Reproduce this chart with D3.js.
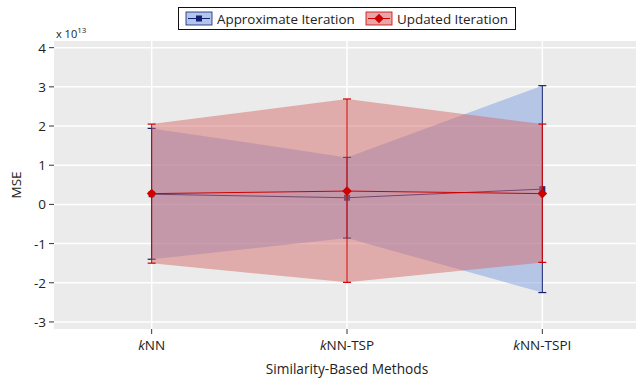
<!DOCTYPE html>
<html>
<head>
<meta charset="utf-8">
<script src="https://cdn.jsdelivr.net/npm/d3@7"></script>
<style>
  body { margin: 0; background: #fff; }
  text { font-family: "Open Sans", "Noto Sans", sans-serif; fill: #222; }
</style>
</head>
<body>
<svg id="chart" width="636" height="380"></svg>
<script>
// Methods compared on the x axis
const methods = ["kNN", "kNN-TSP", "kNN-TSPI"];
// MSE in units of 1e13
const approxMean  = [0.26, 0.17, 0.39];
const approxUpper = [1.94, 1.20, 3.03];
const approxLower = [-1.40, -0.86, -2.25];
const updatedMean  = [0.275, 0.34, 0.275];
const updatedUpper = [2.05, 2.69, 2.05];
const updatedLower = [-1.50, -1.99, -1.48];
const yTicks = [-3, -2, -1, 0, 1, 2, 3, 4];
const seriesNames = ["Approximate Iteration", "Updated Iteration"];

const svg = d3.select("#chart");
const plot = { left: 54, right: 640, top: 41, bottom: 329 };

const x = d3.scaleLinear().domain([0.5, 3.5]).range([plot.left, plot.right]);
const y = d3.scaleLinear().domain([-3.18, 4.17]).range([plot.bottom, plot.top]);

svg.append("rect")
  .attr("x", plot.left).attr("y", plot.top)
  .attr("width", plot.right - plot.left).attr("height", plot.bottom - plot.top)
  .attr("fill", "#ebebeb");

// grid
svg.append("g").selectAll("line").data(yTicks).join("line")
  .attr("x1", plot.left).attr("x2", plot.right)
  .attr("y1", d => y(d)).attr("y2", d => y(d))
  .attr("stroke", "#fff").attr("stroke-width", 1.5);
svg.append("g").selectAll("line").data(methods).join("line")
  .attr("x1", (d, i) => x(i + 1)).attr("x2", (d, i) => x(i + 1))
  .attr("y1", plot.top).attr("y2", plot.bottom)
  .attr("stroke", "#fff").attr("stroke-width", 1.5);

const sq = d3.symbol().type(d3.symbolSquare).size(36);
const dm = d3.symbol().type(d3.symbolDiamond2).size(60);

const series = [
  { mean: approxMean, upper: approxUpper, lower: approxLower,
    fill: "rgb(125,160,225)", fillOpacity: 0.5, line: "#15206e",
    marker: sq, markerFill: "#2a2a70" },
  { mean: updatedMean, upper: updatedUpper, lower: updatedLower,
    fill: "rgb(212,108,108)", fillOpacity: 0.5, line: "#d00000",
    marker: dm, markerFill: "#d00000" }
];

const area = d3.area()
  .x((d, i) => x(i + 1))
  .y0(d => y(d[0])).y1(d => y(d[1]));
const line = d3.line().x((d, i) => x(i + 1)).y(d => y(d));

// each series: band, error bars, mean line, markers (later series on top)
series.forEach(s => {
  const g = svg.append("g");
  g.append("path")
    .datum(s.lower.map((l, i) => [l, s.upper[i]]))
    .attr("d", area)
    .attr("fill", s.fill).attr("fill-opacity", s.fillOpacity);
  s.mean.forEach((m, i) => {
    const cx = x(i + 1);
    g.append("line").attr("x1", cx).attr("x2", cx)
      .attr("y1", y(s.lower[i])).attr("y2", y(s.upper[i]))
      .attr("stroke", s.line).attr("stroke-width", 1);
    [s.lower[i], s.upper[i]].forEach(v => {
      g.append("line").attr("x1", cx - 4).attr("x2", cx + 4)
        .attr("y1", y(v)).attr("y2", y(v))
        .attr("stroke", s.line).attr("stroke-width", 1.2);
    });
  });
  g.append("path").datum(s.mean).attr("d", line)
    .attr("fill", "none").attr("stroke", s.line).attr("stroke-width", 1);
  g.selectAll("path.mk").data(s.mean).join("path").attr("class", "mk")
    .attr("transform", (d, i) => `translate(${x(i + 1)},${y(d)})`)
    .attr("d", s.marker).attr("fill", s.markerFill);
});

// y axis
const yg = svg.append("g");
yTicks.forEach(t => {
  yg.append("line").attr("x1", plot.left - 5).attr("x2", plot.left)
    .attr("y1", y(t)).attr("y2", y(t)).attr("stroke", "#333");
  yg.append("text").attr("x", plot.left - 8).attr("y", y(t))
    .attr("text-anchor", "end").attr("dominant-baseline", "central")
    .attr("font-size", 13.5).text(t);
});
const exp = svg.append("text").attr("x", 56).attr("y", 38).attr("font-size", 11);
exp.append("tspan").text("x 10");
exp.append("tspan").attr("dy", -5).attr("font-size", 8).text("13");

svg.append("text").attr("transform", `translate(21,${(plot.top + plot.bottom) / 2}) rotate(-90)`)
  .attr("text-anchor", "middle").attr("font-size", 13.5).text("MSE");

// x axis
const xg = svg.append("g");
methods.forEach((m, i) => {
  const cx = x(i + 1);
  xg.append("line").attr("x1", cx).attr("x2", cx)
    .attr("y1", plot.bottom).attr("y2", plot.bottom + 5).attr("stroke", "#333");
  const t = xg.append("text").attr("x", cx).attr("y", plot.bottom + 21)
    .attr("text-anchor", "middle").attr("font-size", 13.5);
  t.append("tspan").attr("font-style", "italic").text(m[0]);
  t.append("tspan").text(m.slice(1));
});
svg.append("text").attr("x", 347).attr("y", 374)
  .attr("text-anchor", "middle").attr("font-size", 13.7).text("Similarity-Based Methods");

// legend
const lg = svg.append("g");
lg.append("rect").attr("x", 178.5).attr("y", 7.5).attr("width", 337).attr("height", 22)
  .attr("fill", "#fff").attr("stroke", "#111");
const legendX = [186, 366];
series.forEach((s, i) => {
  const lx = legendX[i];
  lg.append("rect").attr("x", lx).attr("y", 12).attr("width", 26).attr("height", 13)
    .attr("fill", s.fill).attr("fill-opacity", 0.6).attr("stroke", s.line).attr("stroke-width", 0.8);
  lg.append("line").attr("x1", lx + 2).attr("x2", lx + 24).attr("y1", 18.5).attr("y2", 18.5)
    .attr("stroke", s.line).attr("stroke-width", 1);
  lg.append("path").attr("transform", `translate(${lx + 13},18.5)`)
    .attr("d", s.marker).attr("fill", i === 0 ? "#15206e" : "#d00000");
  lg.append("text").attr("x", lx + 31).attr("y", 19).attr("dominant-baseline", "central")
    .attr("font-size", 13.4).text(seriesNames[i]);
});
</script>
</body>
</html>
